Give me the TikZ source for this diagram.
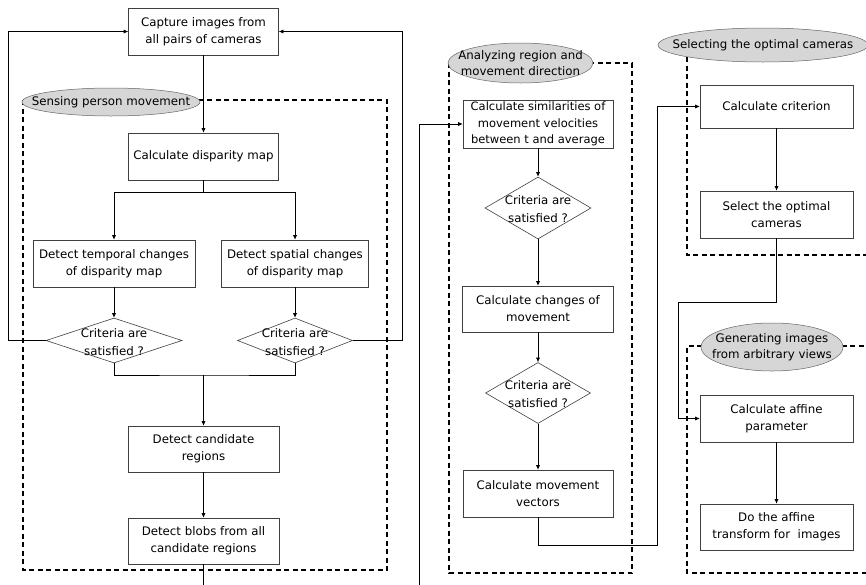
\documentclass[tikz,border=0pt]{standalone}
\usepackage{fontspec}
\setmainfont{DejaVu Sans}
\usetikzlibrary{arrows.meta,shapes.geometric}
\tikzset{
  box/.style={draw=black!75,line width=0.6pt,rectangle,align=center,inner sep=0pt,
    font=\fontsize{11.8}{17}\selectfont},
  dia/.style={draw=black!75,line width=0.6pt,shape=diamond,inner sep=0pt,aspect=1},
  diatext/.style={align=center,inner sep=0pt,font=\fontsize{11.8}{18}\selectfont},
  tag/.style={ellipse,draw=black!60,line width=0.5pt,fill=black!16,inner sep=0pt},
  tagtext/.style={align=center,inner sep=0pt,font=\fontsize{11.8}{16}\selectfont},
  panel/.style={line width=2.2pt,dash pattern=on 5pt off 3.5pt},
  arr/.style={line width=0.6pt,-{Latex[length=4.5pt,width=4pt]}},
  ln/.style={line width=0.6pt},
}
\begin{document}
\begin{tikzpicture}[x=1pt,y=-1pt]
\useasboundingbox[fill=white] (0,0) rectangle (866,584);
% panels
\draw[panel] (23,100) rectangle (387,570);
\draw[panel] (449,63) rectangle (632,573);
\draw[panel] (687,57) -- (687,255) -- (872,255);
\draw[panel] (872,346) -- (687,346) -- (687,573) -- (872,573);
% tags
\node[tag,minimum width=178pt,minimum height=28pt] (t1) at (111,102) {};
\node[tagtext] (t1x) at (t1) {Sensing person movement};
\node[tag,minimum width=145pt,minimum height=40pt] (t2) at (520.5,63) {};
\node[tagtext] (t2x) at (t2) {Analyzing region and\\movement direction};
\node[tag,minimum width=210pt,minimum height=34pt] (t3) at (763,45) {};
\node[tagtext] (t3x) at (t3) {Selecting the optimal cameras};
\node[tag,minimum width=142pt,minimum height=48pt] (t4) at (772,347) {};
\node[tagtext] (t4x) at (t4) {Generating images\\from arbitrary views};
% left column
\node[box,minimum width=150pt,minimum height=47pt] (cap) at (203.5,31.5) {Capture images from\\all pairs of cameras};
\node[box,minimum width=150pt,minimum height=47pt] (disp) at (203.5,156.5) {Calculate disparity map};
\node[box,minimum width=162pt,minimum height=47pt] (temp) at (114,263.5) {Detect temporal changes\\of disparity map};
\node[box,minimum width=147pt,minimum height=47pt] (spat) at (295,263.5) {Detect spatial changes\\of disparity map};
\node[dia,minimum width=136pt,minimum height=45pt] (d1) at (114,340.5) {};
\node[diatext] (d1t) at (114,342) {Criteria are\\satisfied ?};
\node[dia,minimum width=115pt,minimum height=45pt] (d2) at (295,340.5) {};
\node[diatext] (d2t) at (295,342) {Criteria are\\satisfied ?};
\node[box,minimum width=151pt,minimum height=46pt] (cand) at (203.5,449) {Detect candidate\\regions};
\node[box,minimum width=151pt,minimum height=46pt] (blobs) at (203.5,541) {Detect blobs from all\\candidate regions};
% middle column
\node[box,minimum width=150pt,minimum height=48pt,font=\fontsize{11.5}{16.5}\selectfont] (sim) at (538,124) {Calculate similarities of\\movement velocities\\between t and average};
\node[dia,minimum width=106pt,minimum height=62pt] (d3) at (538,208) {};
\node[diatext] (d3t) at (538,209) {Criteria are\\satisfied ?};
\node[box,minimum width=151pt,minimum height=46pt] (chg) at (538,309) {Calculate changes of\\movement};
\node[dia,minimum width=105pt,minimum height=61pt] (d4) at (538,393) {};
\node[diatext] (d4t) at (538,394) {Criteria are\\satisfied ?};
\node[box,minimum width=150pt,minimum height=47pt] (vec) at (538,493.5) {Calculate movement\\vectors};
% right column
\node[box,minimum width=153pt,minimum height=43pt] (crit) at (776.5,106.5) {Calculate criterion};
\node[box,minimum width=153pt,minimum height=47pt] (sel) at (776.5,214.5) {Select the optimal\\cameras};
\node[box,minimum width=153pt,minimum height=47pt] (aff) at (776.5,418.5) {Calculate affine\\parameter};
\node[box,minimum width=153pt,minimum height=46pt] (tr) at (776.5,527) {Do the affine\\transform for\ \ images};
% connectors left
\draw[arr] (cap) -- (disp);
\coordinate (split) at (203.5,192);
\draw[ln] (disp.south) -- (split);
\draw[arr] (split) -| (temp.north);
\draw[arr] (split) -| (spat.north);
\draw[arr] (temp) -- (d1);
\draw[arr] (spat) -- (d2);
\draw[arr] (d1.west) -- (8,340.5) |- (cap.west);
\draw[arr] (d2.east) -- (402,340.5) |- (cap.east);
\coordinate (merge) at (203.5,375);
\draw[ln] (d1.south) |- (merge) -| (d2.south);
\draw[arr] (merge) -- (cand.north);
\draw[arr] (cand) -- (blobs);
\draw[arr] (blobs.south) -- (203.5,598) -- (419,598) |- (sim.west);
% connectors middle
\draw[arr] (sim) -- (d3);
\draw[arr] (d3) -- (chg);
\draw[arr] (chg) -- (d4);
\draw[arr] (d4) -- (vec);
\draw[arr] (vec.south) -- (538,545) -- (657,545) |- (crit.west);
% connectors right
\draw[arr] (crit) -- (sel);
\draw[arr] (sel.south) -- (776.5,302) -- (678,302) |- (aff.west);
\draw[arr] (aff) -- (tr);
\end{tikzpicture}
\end{document}
